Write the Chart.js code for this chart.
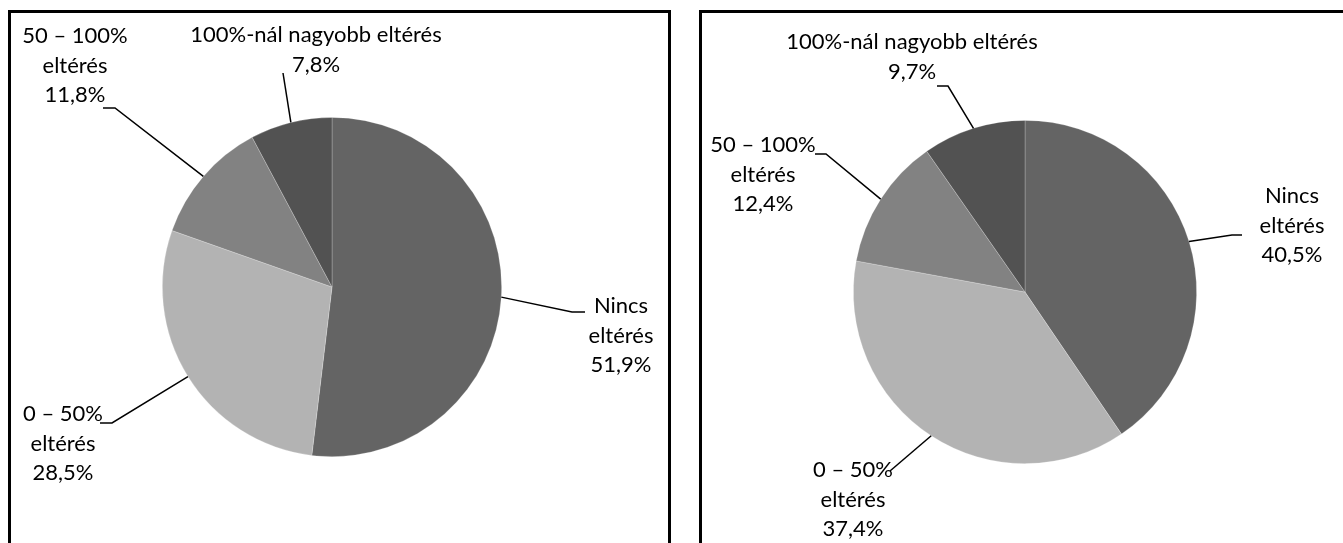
<!DOCTYPE html>
<html>
<head>
<meta charset="utf-8">
<script src="https://cdn.jsdelivr.net/npm/chart.js@4"></script>
<style>
  html, body { margin: 0; padding: 0; background: #fff; }
  body { width: 1343px; height: 543px; position: relative; overflow: hidden; }
  .panel { position: absolute; top: 10px; height: 600px; border: 3px solid #000; box-sizing: border-box; }
  canvas { position: absolute; left: 0; top: 0; }
</style>
</head>
<body>
<div class="panel" style="left:8px; width:663px;"></div>
<div class="panel" style="left:699px; width:700px;"></div>
<canvas id="leftChart" width="1343" height="543"></canvas>
<canvas id="rightChart" width="1343" height="543"></canvas>
<script>
// Categories (multi-line labels) and values
const categories = [
    ['Nincs', 'eltérés'],
    ['0 – 50%', 'eltérés'],
    ['50 – 100%', 'eltérés'],
    ['100%-nál nagyobb eltérés']
];
const leftValues  = [51.9, 28.5, 11.8, 7.8];
const rightValues = [40.5, 37.4, 12.4, 9.7];

const sliceColors = ['#646464', '#b3b3b3', '#828282', '#525252'];

// Label placement: text centre x, first baseline y, leader elbow and end
const leftLabels = [
    { x: 621, y: 313, elbow: [572, 312], end: [585, 312] },
    { x: 63,  y: 421, elbow: [112, 423], end: [100, 423] },
    { x: 75,  y: 43,  elbow: [115, 108], end: [103, 108] },
    { x: 316, y: 42,  elbow: [283, 73],  end: [283, 73] }
];
const rightLabels = [
    { x: 1292, y: 203, elbow: [1232, 235], end: [1242, 235] },
    { x: 853,  y: 477, elbow: [890, 471],  end: [890, 471] },
    { x: 763,  y: 152, elbow: [826, 154],  end: [815, 154] },
    { x: 912,  y: 49,  elbow: [948, 86],   end: [937, 86] }
];

const FONT = '22px Lato';
const LINE_H = 29.5;

function fmt(v) {
    return v.toFixed(1).replace('.', ',') + '%';
}

// Draws leader lines and data labels outside the pie
const outsideLabels = {
    id: 'outsideLabels',
    afterDraw(chart, args, opts) {
        const ctx = chart.ctx;
        const meta = chart.getDatasetMeta(0);
        const values = chart.data.datasets[0].data;
        ctx.save();
        meta.data.forEach((arc, i) => {
            const p = arc.getProps(['x', 'y', 'startAngle', 'endAngle', 'outerRadius'], true);
            const mid = (p.startAngle + p.endAngle) / 2;
            const sx = p.x + Math.cos(mid) * p.outerRadius;
            const sy = p.y + Math.sin(mid) * p.outerRadius;
            const lab = opts.layout[i];

            ctx.strokeStyle = '#000';
            ctx.lineWidth = 1.5;
            ctx.beginPath();
            ctx.moveTo(sx, sy);
            ctx.lineTo(lab.elbow[0], lab.elbow[1]);
            ctx.lineTo(lab.end[0], lab.end[1]);
            ctx.stroke();

            const lines = chart.data.labels[i].concat([fmt(values[i])]);
            ctx.fillStyle = '#000';
            ctx.font = FONT;
            ctx.textAlign = 'center';
            ctx.textBaseline = 'alphabetic';
            lines.forEach((t, j) => ctx.fillText(t, lab.x, lab.y + j * LINE_H));
        });
        ctx.restore();
    }
};

function makePie(id, values, labelLayout, padding) {
    return new Chart(document.getElementById(id), {
        type: 'pie',
        data: {
            labels: categories,
            datasets: [{
                data: values,
                backgroundColor: sliceColors,
                borderWidth: 0.75,
                borderColor: 'rgba(255,255,255,0.3)'
            }]
        },
        options: {
            responsive: false,
            animation: false,
            layout: { padding: padding },
            plugins: {
                legend: { display: false },
                tooltip: { enabled: false },
                outsideLabels: { layout: labelLayout }
            }
        },
        plugins: [outsideLabels]
    });
}

document.fonts.load(FONT).then(function() {
    makePie('leftChart',  leftValues,  leftLabels,  { left: 162, top: 117, right: 841, bottom: 86 });
    makePie('rightChart', rightValues, rightLabels, { left: 853, top: 120, right: 146, bottom: 79 });
});
</script>
</body>
</html>
